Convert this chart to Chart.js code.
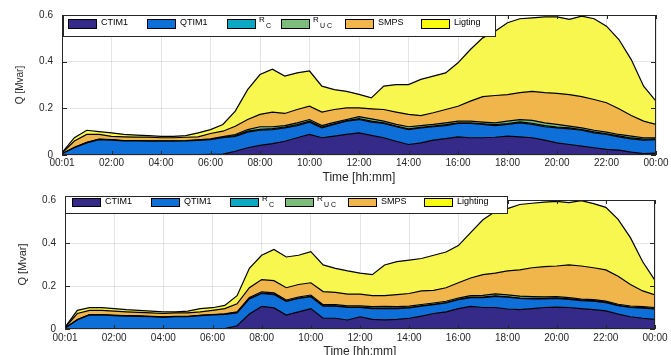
<!DOCTYPE html>
<html lang="en">
<head>
<meta charset="utf-8">
<title>Reactive power by load type</title>
<script src="https://cdn.jsdelivr.net/npm/chart.js@4.4.1/dist/chart.umd.min.js"></script>
<style>
  html, body { margin: 0; padding: 0; background: #fff; overflow: hidden; }
  .panel { position: absolute; left: 0; }
  #top-panel { top: 0; }
  #bottom-panel { top: 185px; }
</style>
</head>
<body>
<div class="panel" id="top-panel"><canvas id="chart-top" width="671" height="185"></canvas></div>
<div class="panel" id="bottom-panel"><canvas id="chart-bottom" width="671" height="174"></canvas></div>

<script>
// time of day in hours, one sample every 30 min
const hours = [0, 0.5, 1, 1.5, 2, 2.5, 3, 3.5, 4, 4.5, 5, 5.5, 6, 6.5, 7, 7.5, 8, 8.5, 9, 9.5,
  10, 10.5, 11, 11.5, 12, 12.5, 13, 13.5, 14, 14.5, 15, 15.5, 16, 16.5, 17, 17.5, 18, 18.5, 19, 19.5,
  20, 20.5, 21, 21.5, 22, 22.5, 23, 23.5, 24];
const xTickLabels = ['00:01', '02:00', '04:00', '06:00', '08:00', '10:00', '12:00',
  '14:00', '16:00', '18:00', '20:00', '22:00', '00:00'];

// upper edge of every stacked band [Mvar]
// top panel
const topCTIM1 = [0, 0.002, 0.002, 0.002, 0.002, 0.002, 0.002, 0.002, 0.002, 0.002, 0.002, 0.002, 0.003, 0.004, 0.016, 0.031, 0.041, 0.049, 0.059, 0.074,
  0.088, 0.074, 0.081, 0.088, 0.095, 0.084, 0.074, 0.059, 0.045, 0.052, 0.064, 0.07, 0.078, 0.074, 0.074, 0.076, 0.081, 0.078, 0.074, 0.064,
  0.052, 0.045, 0.038, 0.031, 0.024, 0.021, 0.012, 0.006, 0.008];
const topQTIM1 = [0.005, 0.031, 0.052, 0.066, 0.064, 0.06, 0.06, 0.059, 0.059, 0.059, 0.06, 0.063, 0.066, 0.074, 0.08, 0.098, 0.106, 0.109, 0.116, 0.126,
  0.141, 0.116, 0.131, 0.145, 0.152, 0.141, 0.135, 0.121, 0.109, 0.116, 0.121, 0.126, 0.135, 0.135, 0.131, 0.126, 0.131, 0.138, 0.131, 0.121,
  0.116, 0.112, 0.106, 0.095, 0.088, 0.078, 0.069, 0.064, 0.066];
const topRC = [0.005, 0.032, 0.053, 0.067, 0.065, 0.061, 0.061, 0.06, 0.06, 0.06, 0.061, 0.064, 0.067, 0.076, 0.083, 0.102, 0.11, 0.113, 0.12, 0.13,
  0.145, 0.12, 0.134, 0.148, 0.156, 0.145, 0.138, 0.124, 0.112, 0.119, 0.124, 0.13, 0.138, 0.138, 0.134, 0.13, 0.135, 0.142, 0.136, 0.126,
  0.12, 0.116, 0.109, 0.099, 0.091, 0.082, 0.073, 0.068, 0.069];
const topRUC = [0.005, 0.033, 0.054, 0.068, 0.066, 0.062, 0.062, 0.061, 0.061, 0.061, 0.062, 0.065, 0.069, 0.079, 0.088, 0.109, 0.121, 0.121, 0.126, 0.138,
  0.152, 0.126, 0.14, 0.152, 0.164, 0.155, 0.145, 0.131, 0.121, 0.126, 0.131, 0.138, 0.145, 0.145, 0.141, 0.138, 0.145, 0.152, 0.148, 0.138,
  0.131, 0.124, 0.116, 0.106, 0.098, 0.088, 0.081, 0.074, 0.074];
const topSMPS = [0.008, 0.06, 0.088, 0.088, 0.08, 0.078, 0.077, 0.077, 0.074, 0.074, 0.076, 0.078, 0.092, 0.102, 0.123, 0.152, 0.174, 0.184, 0.178, 0.195,
  0.209, 0.184, 0.195, 0.202, 0.202, 0.198, 0.195, 0.184, 0.174, 0.169, 0.181, 0.195, 0.209, 0.231, 0.25, 0.255, 0.259, 0.267, 0.273, 0.267,
  0.264, 0.259, 0.25, 0.238, 0.224, 0.198, 0.169, 0.145, 0.131];
const topLight = [0.01, 0.074, 0.106, 0.1, 0.095, 0.088, 0.085, 0.083, 0.08, 0.08, 0.083, 0.095, 0.109, 0.131, 0.188, 0.28, 0.345, 0.368, 0.338, 0.352,
  0.36, 0.295, 0.28, 0.273, 0.26, 0.245, 0.295, 0.302, 0.302, 0.324, 0.338, 0.352, 0.395, 0.452, 0.502, 0.53, 0.567, 0.584, 0.588, 0.592,
  0.592, 0.581, 0.595, 0.584, 0.552, 0.495, 0.409, 0.295, 0.231];

// bottom panel
const botCTIM1 = [0, 0, 0, 0, 0, 0, 0, 0, 0, 0, 0, 0, 0, 0.002, 0.015, 0.07, 0.105, 0.098, 0.065, 0.08,
  0.095, 0.05, 0.05, 0.042, 0.057, 0.045, 0.042, 0.045, 0.05, 0.06, 0.072, 0.08, 0.095, 0.105, 0.1, 0.1, 0.093, 0.09, 0.095, 0.1,
  0.102, 0.1, 0.095, 0.09, 0.084, 0.069, 0.057, 0.05, 0.045];
const botQTIM1 = [0.004, 0.042, 0.065, 0.065, 0.062, 0.06, 0.059, 0.057, 0.054, 0.057, 0.057, 0.062, 0.065, 0.068, 0.075, 0.14, 0.165, 0.16, 0.128, 0.142,
  0.15, 0.106, 0.106, 0.1, 0.1, 0.095, 0.095, 0.095, 0.098, 0.106, 0.113, 0.121, 0.136, 0.146, 0.146, 0.152, 0.148, 0.142, 0.14, 0.14,
  0.142, 0.138, 0.132, 0.13, 0.123, 0.108, 0.1, 0.097, 0.093];
const botRC = [0.004, 0.043, 0.066, 0.066, 0.063, 0.061, 0.06, 0.058, 0.055, 0.058, 0.058, 0.063, 0.066, 0.069, 0.077, 0.142, 0.167, 0.162, 0.13, 0.144,
  0.152, 0.108, 0.108, 0.102, 0.102, 0.097, 0.097, 0.097, 0.1, 0.108, 0.115, 0.123, 0.138, 0.148, 0.148, 0.154, 0.15, 0.144, 0.142, 0.142,
  0.144, 0.14, 0.134, 0.132, 0.125, 0.11, 0.102, 0.099, 0.095];
const botRUC = [0.004, 0.044, 0.067, 0.067, 0.064, 0.062, 0.061, 0.059, 0.056, 0.059, 0.059, 0.064, 0.067, 0.071, 0.08, 0.147, 0.173, 0.168, 0.135, 0.149,
  0.158, 0.113, 0.113, 0.108, 0.108, 0.104, 0.105, 0.104, 0.106, 0.114, 0.121, 0.129, 0.144, 0.155, 0.156, 0.163, 0.159, 0.153, 0.151, 0.149,
  0.151, 0.146, 0.139, 0.137, 0.13, 0.115, 0.107, 0.104, 0.1];
const botSMPS = [0.006, 0.072, 0.087, 0.087, 0.083, 0.08, 0.077, 0.075, 0.072, 0.075, 0.075, 0.08, 0.087, 0.095, 0.117, 0.192, 0.23, 0.225, 0.192, 0.207,
  0.215, 0.174, 0.17, 0.162, 0.162, 0.155, 0.155, 0.16, 0.165, 0.177, 0.18, 0.192, 0.215, 0.237, 0.253, 0.26, 0.27, 0.275, 0.285, 0.29,
  0.293, 0.298, 0.293, 0.285, 0.275, 0.245, 0.207, 0.177, 0.159];
const botLight = [0.008, 0.087, 0.099, 0.099, 0.095, 0.09, 0.087, 0.083, 0.08, 0.08, 0.083, 0.095, 0.099, 0.11, 0.155, 0.282, 0.343, 0.37, 0.335, 0.343,
  0.36, 0.298, 0.282, 0.27, 0.26, 0.253, 0.298, 0.313, 0.32, 0.328, 0.343, 0.358, 0.388, 0.448, 0.508, 0.546, 0.56, 0.579, 0.585, 0.59,
  0.594, 0.588, 0.597, 0.583, 0.566, 0.51, 0.425, 0.313, 0.226];

const fillColors = ['#352a87', '#0f6fd8', '#0aa8c2', '#7cbd7a', '#f0b64c', '#f7f74f'];
const swatchColors = ['#352a87', '#0f6fd8', '#0aa8c2', '#7cbd7a', '#f0b64c', '#f9fb0e'];
const INK = '#262626';

Chart.defaults.font.family = '"Liberation Sans", Arial, sans-serif';
Chart.defaults.color = INK;

// box around the axes with inward ticks, plus a MATLAB style legend inside the plot
var boxPlugin = {
  id: 'boxLegend',
  afterDraw: function (chart, args, opts) {
    var a = chart.chartArea, ctx = chart.ctx;
    var xs = chart.scales.x, ys = chart.scales.y;
    ctx.save();
    ctx.strokeStyle = INK;
    ctx.lineWidth = 1;
    ctx.strokeRect(a.left + 0.5, a.top + 0.5, a.right - a.left - 1, a.bottom - a.top - 1);
    ctx.beginPath();
    xs.ticks.forEach(function (t) {
      var px = Math.round(xs.getPixelForValue(t.value)) + 0.5;
      ctx.moveTo(px, a.bottom); ctx.lineTo(px, a.bottom - 4);
      ctx.moveTo(px, a.top); ctx.lineTo(px, a.top + 4);
    });
    ys.ticks.forEach(function (t) {
      var py = Math.round(ys.getPixelForValue(t.value)) + 0.5;
      ctx.moveTo(a.left, py); ctx.lineTo(a.left + 5, py);
      ctx.moveTo(a.right, py); ctx.lineTo(a.right - 5, py);
    });
    ctx.stroke();

    // legend
    var b = opts.box;
    ctx.fillStyle = '#fff';
    ctx.fillRect(b[0], b[1], b[2] - b[0], b[3] - b[1]);
    ctx.strokeRect(b[0] + 0.5, b[1] + 0.5, b[2] - b[0] - 1, b[3] - b[1] - 1);
    ctx.textBaseline = 'middle';
    ctx.textAlign = 'left';
    opts.items.forEach(function (it, i) {
      var sx = opts.swatchX[i];
      ctx.fillStyle = swatchColors[i];
      ctx.fillRect(sx, opts.swatchY, 29, opts.swatchH);
      ctx.strokeStyle = '#000';
      ctx.strokeRect(sx + 0.5, opts.swatchY + 0.5, 28, opts.swatchH - 1);
      ctx.fillStyle = '#000';
      if (it.sub) {
        ctx.font = '8px "Liberation Sans", Arial, sans-serif';
        ctx.fillText(it.text, sx + 32, opts.textY - 3);
        ctx.font = '7px "Liberation Sans", Arial, sans-serif';
        ctx.fillText(it.sub, sx + 39, opts.textY + 3);
      } else {
        ctx.font = '9px "Liberation Sans", Arial, sans-serif';
        ctx.fillText(it.text, sx + 33, opts.textY);
      }
    });
    ctx.restore();
  }
};

function makePanel(canvasId, series, lightName, lay) {
  var names = ['CTIM1', 'QTIM1', 'R_C', 'R_UC', 'SMPS', lightName];
  var datasets = series.map(function (s, i) {
    return {
      label: names[i],
      data: s,
      backgroundColor: fillColors[i],
      borderColor: '#000',
      borderWidth: 1.2,
      pointRadius: 0,
      tension: 0,
      fill: i === 0 ? 'origin' : '-1'
    };
  });
  var items = [
    { text: 'CTIM1' }, { text: 'QTIM1' }, { text: 'R', sub: 'C' },
    { text: 'R', sub: 'U C' }, { text: 'SMPS' }, { text: lightName }
  ];
  return new Chart(document.getElementById(canvasId), {
    type: 'line',
    data: { labels: hours, datasets: datasets },
    plugins: [boxPlugin],
    options: {
      responsive: false,
      animation: false,
      events: [],
      layout: { padding: { top: lay.padTop, right: lay.padRight, left: 0, bottom: 0 } },
      plugins: {
        legend: { display: false },
        tooltip: { enabled: false },
        boxLegend: { box: lay.box, items: items, swatchX: lay.swatchX, swatchY: lay.swatchY, swatchH: lay.swatchH, textY: lay.textY }
      },
      scales: {
        x: {
          type: 'linear', min: 0, max: 24, z: 1,
          afterFit: function (s) { s.height = lay.xHeight; },
          border: { display: false },
          grid: { color: 'rgba(0,0,0,0.1)', drawTicks: false },
          ticks: {
            stepSize: 2, maxRotation: 0, autoSkip: false, padding: lay.xTickPad,
            font: { size: 10 },
            callback: function (v) { return xTickLabels[Math.round(v / 2)]; }
          },
          title: { display: true, text: 'Time [hh:mm]', font: { size: 12 }, padding: { top: 0, bottom: 0 } }
        },
        y: {
          min: 0, max: 0.6, z: 1,
          afterFit: function (s) { s.width = lay.yWidth; },
          border: { display: false },
          grid: { color: 'rgba(0,0,0,0.1)', drawTicks: false },
          ticks: {
            stepSize: 0.2, padding: 9, font: { size: 10 },
            callback: function (v) { return v === 0 ? '0' : v.toFixed(1); }
          },
          title: { display: true, text: 'Q [Mvar]', font: { size: lay.yTitleSize }, padding: { top: lay.yTitlePad, bottom: 0 } }
        }
      }
    }
  });
}

makePanel('chart-top', [topCTIM1, topQTIM1, topRC, topRUC, topSMPS, topLight], 'Ligting', {
  padTop: 15, padRight: 15, yWidth: 62, xHeight: 30, xTickPad: 2,
  yTitleSize: 10, yTitlePad: 14,
  box: [63, 15, 496, 37], swatchX: [68, 147, 227, 281, 345, 421], swatchY: 19, swatchH: 10, textY: 23
});

makePanel('chart-bottom', [botCTIM1, botQTIM1, botRC, botRUC, botSMPS, botLight], 'Lighting', {
  padTop: 11, padRight: 16, yWidth: 65, xHeight: 30, xTickPad: 3,
  yTitleSize: 11, yTitlePad: 16,
  box: [65, 11, 508, 29], swatchX: [72, 151, 230, 285, 348, 424], swatchY: 13, swatchH: 9, textY: 17
});
</script>
</body>
</html>
